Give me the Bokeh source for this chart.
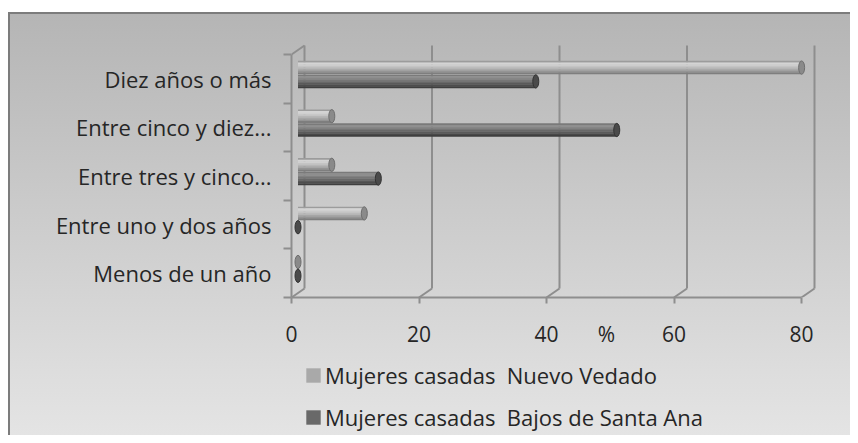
from bokeh.plotting import figure
from bokeh.layouts import column
from bokeh.models import Range1d, FixedTicker, Legend, LegendItem
from bokeh.embed import file_html
from bokeh.resources import INLINE

# ---- data ----
categories = ["Menos de un año", "Entre uno y dos años", "Entre tres y cinco...",
              "Entre cinco y diez...", "Diez años o más"]
nuevo_vedado = [0, 10.4, 5.3, 5.3, 79.0]
santa_ana = [0, 0, 12.6, 50.0, 37.3]
x_ticks = [0, 20, 40, 60, 80]
series_names = ["Mujeres casadas  Nuevo Vedado", "Mujeres casadas  Bajos de Santa Ana"]
axis_title = "%"

# ---- style / geometry constants ----
FONT = "Open Sans"
FS = "22px"
FS_TICK = "21px"
TXT = "#262626"
GRID = "#8e8e8e"
PX_X = 6.375          # px per x unit
PX_Y = 48.6           # px per category
DX = 13 / PX_X        # depth offset of back wall
DY = 9 / PX_Y
BX0 = 6.5 / PX_X      # bars sit at mid depth
H = 13.3 / PX_Y       # bar thickness
OFF_NV = 11.2 / PX_Y
OFF_SA = -2.6 / PX_Y
TITLE_AT = 49.4       # where the axis title sits along the x axis
NV_SHADES = ["#9c9c9c", "#d4d4d4", "#d0d0d0", "#c4c4c4", "#b6b6b6", "#a6a6a6", "#949494", "#7e7e7e"]
SA_SHADES = ["#7a7a7a", "#8e8e8e", "#868686", "#767676", "#686868", "#5a5a5a", "#4d4d4d", "#3e3e3e"]

n = len(categories)
pos = [i + 0.5 for i in range(n)]

W = 840
P_H = 339
Q_H = 82
LEFT, TOP, BOTTOM = 281, 26, 56
frame_w = W - LEFT
frame_h = P_H - TOP - BOTTOM

p = figure(width=W, height=P_H,
           x_range=Range1d(0, frame_w / PX_X), y_range=Range1d(0, frame_h / PX_Y),
           output_backend="svg", toolbar_location=None,
           min_border_left=LEFT, min_border_top=TOP, min_border_right=0, min_border_bottom=BOTTOM)
p.xgrid.visible = False
p.ygrid.visible = False
p.outline_line_color = None
p.border_fill_alpha = 0
p.background_fill_alpha = 0

# x axis (front); tick marks drawn as minor ticks, the "%" title sits among the labels
xa = p.xaxis[0]
xa.ticker = FixedTicker(ticks=sorted(x_ticks + [TITLE_AT]), minor_ticks=x_ticks)
xa.bounds = (0, x_ticks[-1])
xa.axis_line_color = GRID
xa.axis_line_width = 2
xa.major_tick_line_color = None
xa.major_tick_in = 0
xa.major_tick_out = 0
xa.minor_tick_line_color = GRID
xa.minor_tick_line_width = 2
xa.minor_tick_in = 0
xa.minor_tick_out = 6
xa.major_label_overrides = {TITLE_AT: axis_title}
xa.major_label_text_font = FONT
xa.major_label_text_font_size = FS_TICK
xa.major_label_text_color = TXT
xa.major_label_standoff = 16

# y axis (front, categories)
ya = p.yaxis[0]
ya.ticker = FixedTicker(ticks=pos, minor_ticks=list(range(n + 1)))
ya.bounds = (0, n)
ya.axis_line_color = GRID
ya.axis_line_width = 2
ya.major_tick_line_color = None
ya.major_tick_in = 0
ya.major_tick_out = 0
ya.minor_tick_line_color = GRID
ya.minor_tick_line_width = 2
ya.minor_tick_in = 0
ya.minor_tick_out = 8
ya.major_label_overrides = {pv: c for pv, c in zip(pos, categories)}
ya.major_label_text_font = FONT
ya.major_label_text_font_size = FS
ya.major_label_text_color = TXT
ya.major_label_standoff = 12

# back wall gridlines and floor edges
p.segment(x0=[t + DX for t in x_ticks], y0=DY, x1=[t + DX for t in x_ticks], y1=n + DY,
          line_color=GRID, line_width=2)
p.segment(x0=x_ticks, y0=0, x1=[t + DX for t in x_ticks], y1=DY, line_color=GRID, line_width=2)
p.segment(x0=[0], y0=[n], x1=[DX], y1=[n + DY], line_color=GRID, line_width=2)

# cylinder-like bars made of shaded strips
def draw_series(vals, off, shades, cap_fill, cap_line):
    k_n = len(shades)
    for k, col in enumerate(shades):
        yk = [pp + off + (0.5 - (k + 0.5) / k_n) * H for pp in pos]
        p.hbar(y=yk, left=BX0, right=[v + BX0 for v in vals], height=H / k_n * 1.15,
               fill_color=col, line_color=None)
    p.ellipse(x=[v + BX0 for v in vals], y=[pp + off for pp in pos], width=6, height=13.3,
              width_units="screen", height_units="screen",
              fill_color=cap_fill, line_color=cap_line, line_width=1)

draw_series(nuevo_vedado, OFF_NV, NV_SHADES, "#8a8a8a", "#6e6e6e")
draw_series(santa_ana, OFF_SA, SA_SHADES, "#4a4a4a", "#333333")

# ---- legend in its own strip below ----
q = figure(width=W, height=Q_H, x_axis_type=None, y_axis_type=None,
           x_range=Range1d(0, 1), y_range=Range1d(0, 1),
           output_backend="svg", toolbar_location=None,
           min_border=0, min_border_left=0, min_border_right=0, min_border_top=0, min_border_bottom=0)
q.xgrid.visible = False
q.ygrid.visible = False
q.outline_line_color = None
q.border_fill_alpha = 0
q.background_fill_alpha = 0
# swatch carriers: zero-length bars, only their fill colour is used by the legend
r_nv = q.hbar(y=[0], left=[0], right=[0], height=0, fill_color="#a9a9a9", line_color=None)
r_sa = q.hbar(y=[0], left=[0], right=[0], height=0, fill_color="#696969", line_color=None)
legend = Legend(items=[LegendItem(label=series_names[0], renderers=[r_nv]),
                       LegendItem(label=series_names[1], renderers=[r_sa])],
                location=(13, 3), orientation="vertical",
                glyph_width=18, glyph_height=18,
                label_text_font=FONT, label_text_font_size=FS, label_text_color=TXT,
                label_standoff=3, spacing=12, padding=0, margin=0,
                border_line_alpha=0, background_fill_alpha=0)
q.add_layout(legend)

layout = column(p, q, spacing=0)
layout.styles = {
    "margin-top": "12px",
    "margin-left": "8px",
    "border-top": "2px solid #7c7c7c",
    "border-left": "2px solid #7c7c7c",
    "background": "linear-gradient(to bottom, #b5b5b5, #e4e4e4)",
}

open("out.html", "w").write(file_html(layout, INLINE))
